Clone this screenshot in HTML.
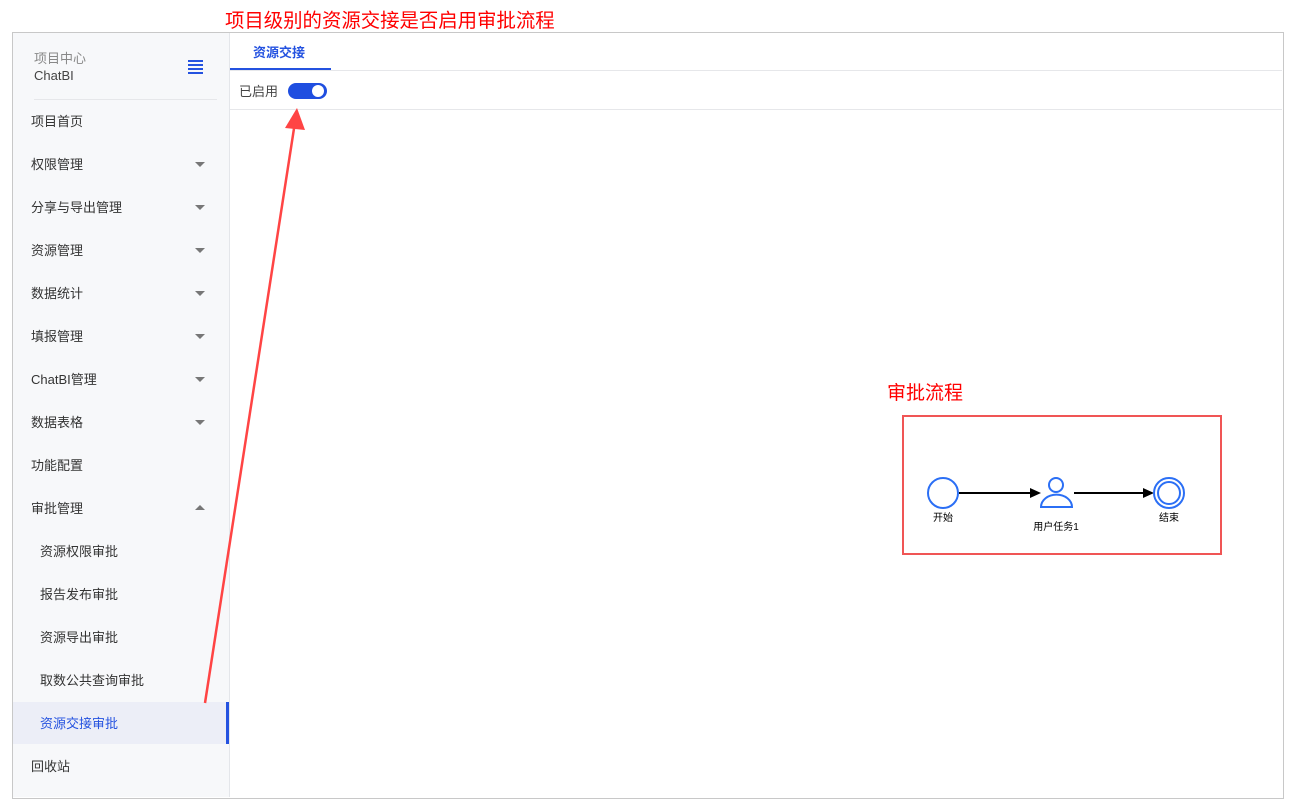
<!DOCTYPE html>
<html><head><meta charset="utf-8"><style>
body{margin:0;width:1295px;height:805px;background:#fff;position:relative;font-family:"Liberation Sans","Noto Sans CJK SC",sans-serif;overflow:hidden}
.a{position:absolute}
.side{left:13px;top:33px;width:216px;height:764px;background:#f7f8fa;border-right:1px solid #e4e6ea}
.item{position:absolute;left:18px;font-size:13px;color:#333}
.sub{left:27px}
.caret{position:absolute;left:182px;width:0;height:0;border-left:5px solid transparent;border-right:5px solid transparent;border-top:5px solid #777}
</style></head><body>
<div class="a" style="left:12px;top:32px;width:1270px;height:765px;border:1px solid #c8c8c8"></div>
<div class="a side">
 <div class="a" style="left:21px;top:15px;font-size:13px;color:#888">项目中心</div>
 <div class="a" style="left:21px;top:35px;font-size:13px;color:#444">ChatBI</div>
 <div class="a" style="left:175px;top:27px;width:15px;height:2px;background:#2452e0;box-shadow:0 4px 0 #2452e0,0 8px 0 #2452e0,0 12px 0 #2452e0"></div>
 <div class="a" style="left:21px;top:66px;width:183px;height:1px;background:#e6e7ea"></div>
 <div class="item" style="top:78px">项目首页</div>
 <div class="item" style="top:121px">权限管理</div><div class="caret" style="top:129px"></div>
 <div class="item" style="top:164px">分享与导出管理</div><div class="caret" style="top:172px"></div>
 <div class="item" style="top:207px">资源管理</div><div class="caret" style="top:215px"></div>
 <div class="item" style="top:250px">数据统计</div><div class="caret" style="top:258px"></div>
 <div class="item" style="top:293px">填报管理</div><div class="caret" style="top:301px"></div>
 <div class="item" style="top:336px">ChatBI管理</div><div class="caret" style="top:344px"></div>
 <div class="item" style="top:379px">数据表格</div><div class="caret" style="top:387px"></div>
 <div class="item" style="top:422px">功能配置</div>
 <div class="item" style="top:465px">审批管理</div><div class="caret" style="top:472px;border-top:0;border-bottom:5px solid #777"></div>
 <div class="item sub" style="top:508px">资源权限审批</div>
 <div class="item sub" style="top:551px">报告发布审批</div>
 <div class="item sub" style="top:594px">资源导出审批</div>
 <div class="item sub" style="top:637px">取数公共查询审批</div>
 <div class="a" style="left:0;top:669px;width:216px;height:42px;background:#eceef7"></div>
 <div class="a" style="left:213px;top:669px;width:3px;height:42px;background:#2452e0"></div>
 <div class="item sub" style="top:680px;color:#2452e0">资源交接审批</div>
 <div class="item" style="top:723px">回收站</div>
</div>
<div class="a" style="left:253px;top:42px;font-size:13px;color:#2452e0;font-weight:bold">资源交接</div>
<div class="a" style="left:230px;top:70px;width:1052px;height:1px;background:#e6e7ea"></div>
<div class="a" style="left:230px;top:68px;width:101px;height:2px;background:#2452e0"></div>
<div class="a" style="left:239px;top:81px;font-size:13px;color:#444">已启用</div>
<div class="a" style="left:288px;top:83px;width:39px;height:16px;border-radius:8px;background:#1f4ee0"></div>
<div class="a" style="left:312px;top:85px;width:12px;height:12px;border-radius:6px;background:#fff"></div>
<div class="a" style="left:230px;top:109px;width:1052px;height:1px;background:#e6e7ea"></div>
<div class="a" style="left:225px;top:4px;font-size:19.4px;color:#f00">项目级别的资源交接是否启用审批流程</div>
<div class="a" style="left:887px;top:378px;font-size:19px;color:#f00">审批流程</div>
<div class="a" style="left:902px;top:415px;width:316px;height:136px;border:2px solid #f05555"></div>
<svg class="a" style="left:0;top:0" width="1295" height="805">
 <line x1="205" y1="703" x2="295" y2="122" stroke="#f44" stroke-width="2.5"/>
 <polygon points="297,108 285,128 305,130" fill="#f44"/>
 <circle cx="943" cy="493" r="15" fill="none" stroke="#2b6ff5" stroke-width="2"/>
 <line x1="959" y1="493" x2="1033" y2="493" stroke="#000" stroke-width="2"/>
 <polygon points="1041,493 1030,488 1030,498" fill="#000"/>
 <circle cx="1056" cy="485" r="7" fill="none" stroke="#2b6ff5" stroke-width="2"/>
 <path d="M1041,507 a15,12 0 0 1 31,0 z" fill="none" stroke="#2b6ff5" stroke-width="2"/>
 <line x1="1074" y1="493" x2="1146" y2="493" stroke="#000" stroke-width="2"/>
 <polygon points="1154,493 1143,488 1143,498" fill="#000"/>
 <circle cx="1169" cy="493" r="15" fill="none" stroke="#2b6ff5" stroke-width="2"/>
 <circle cx="1169" cy="493" r="11" fill="none" stroke="#2b6ff5" stroke-width="2"/>
 <text x="943" y="521" font-size="10" text-anchor="middle" font-family="Liberation Sans,Noto Sans CJK SC,sans-serif">开始</text>
 <text x="1056" y="530" font-size="10" text-anchor="middle" font-family="Liberation Sans,Noto Sans CJK SC,sans-serif">用户任务1</text>
 <text x="1169" y="521" font-size="10" text-anchor="middle" font-family="Liberation Sans,Noto Sans CJK SC,sans-serif">结束</text>
</svg>
</body></html>
